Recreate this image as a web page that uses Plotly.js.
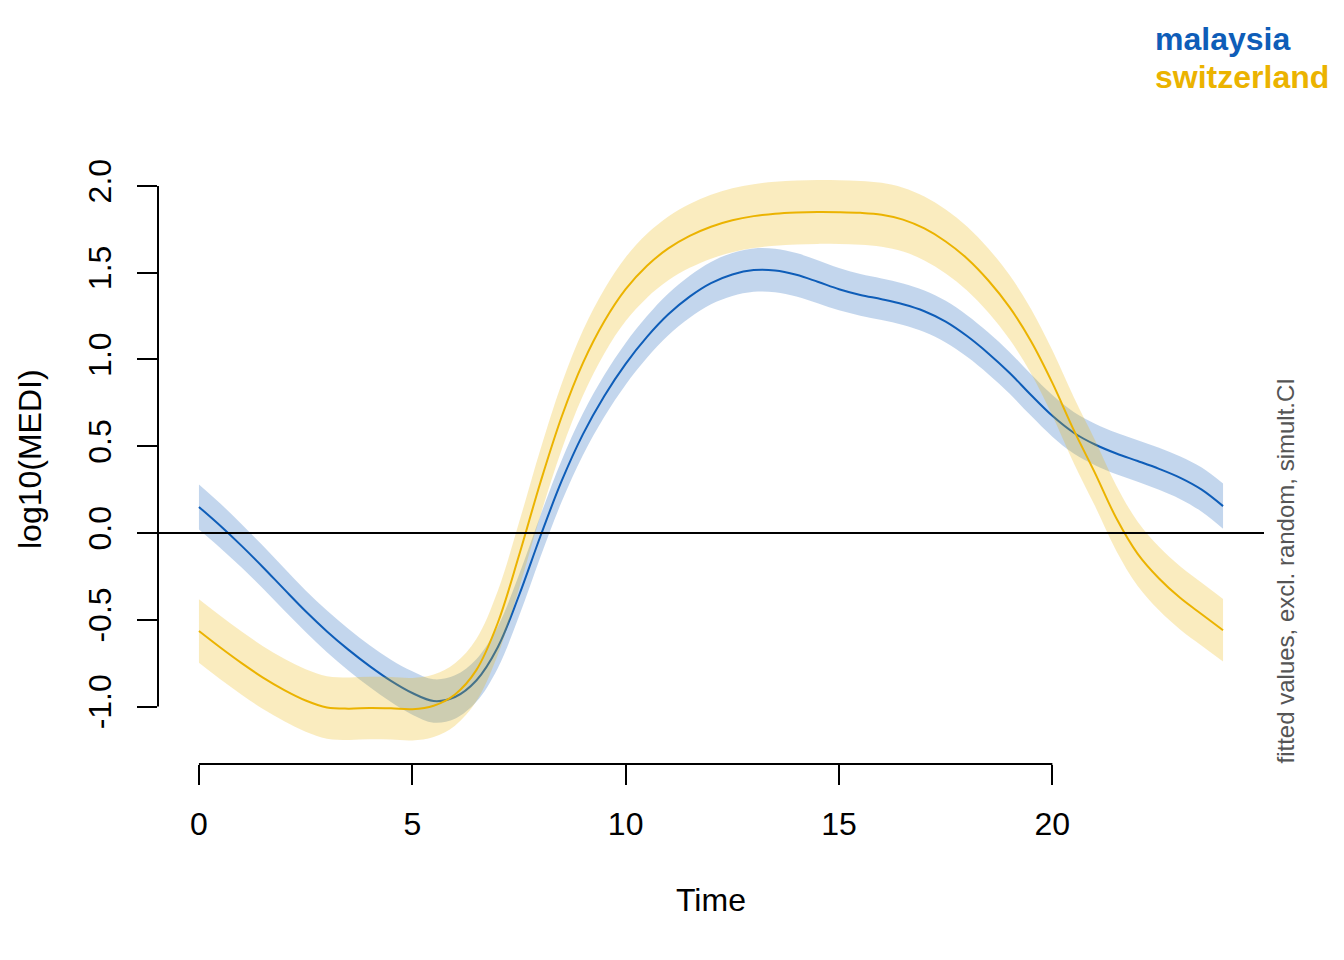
<!DOCTYPE html>
<html>
<head>
<meta charset="utf-8">
<script src="https://cdn.plot.ly/plotly-3.0.1.min.js"></script>
<style>html,body{margin:0;padding:0;background:#fff;}#chart{width:1344px;height:960px;}</style>
</head>
<body>
<div id="chart"></div>
<script>
// ---- data ----
const time = [0,0.5,1,1.5,2,2.5,3,3.5,4,4.5,5,5.5,6,6.5,7,7.5,8,8.5,9,9.5,10,10.5,11,11.5,12,12.5,13,13.5,14,14.5,15,15.5,16,16.5,17,17.5,18,18.5,19,19.5,20,20.5,21,21.5,22,22.5,23,23.5,24];
const fitMalaysia = [0.15,0.042,-0.074,-0.197,-0.325,-0.451,-0.567,-0.672,-0.767,-0.852,-0.922,-0.968,-0.945,-0.85,-0.66,-0.36,-0.02,0.30,0.57,0.79,0.975,1.13,1.26,1.362,1.44,1.49,1.515,1.513,1.488,1.448,1.405,1.372,1.347,1.318,1.278,1.218,1.135,1.035,0.922,0.795,0.675,0.578,0.51,0.458,0.415,0.37,0.318,0.25,0.155];
const ciMalaysia = [0.13,0.128,0.125,0.123,0.122,0.12,0.12,0.12,0.12,0.122,0.125,0.125,0.125,0.123,0.12,0.12,0.12,0.12,0.12,0.12,0.12,0.12,0.12,0.121,0.122,0.124,0.125,0.125,0.125,0.124,0.122,0.12,0.12,0.12,0.12,0.12,0.12,0.12,0.12,0.12,0.12,0.12,0.12,0.12,0.12,0.121,0.123,0.127,0.13];
const fitSwitzerland = [-0.565,-0.66,-0.75,-0.833,-0.905,-0.965,-1.005,-1.012,-1.008,-1.01,-1.015,-0.995,-0.93,-0.79,-0.52,-0.13,0.29,0.67,0.98,1.22,1.405,1.54,1.64,1.712,1.765,1.802,1.826,1.84,1.847,1.85,1.849,1.845,1.834,1.806,1.755,1.68,1.582,1.455,1.30,1.105,0.865,0.594,0.345,0.085,-0.12,-0.262,-0.375,-0.468,-0.56];
const ciSwitzerland = [0.183,0.183,0.182,0.181,0.18,0.18,0.18,0.18,0.18,0.18,0.18,0.18,0.18,0.18,0.185,0.19,0.19,0.19,0.188,0.185,0.184,0.184,0.184,0.184,0.184,0.184,0.184,0.184,0.184,0.184,0.184,0.184,0.184,0.184,0.184,0.184,0.184,0.184,0.185,0.186,0.188,0.19,0.19,0.188,0.185,0.183,0.182,0.181,0.18];
const seriesNames = ["malaysia", "switzerland"];
const xTicks = [0,5,10,15,20];
const yTicks = [-1,-0.5,0,0.5,1,1.5,2];
const yTickText = ["-1.0","-0.5","0.0","0.5","1.0","1.5","2.0"];

// ---- styles ----
const colMy = "#0E5DB8", bandMy = "rgba(14,93,184,0.25)";
const colSw = "#EBB300", bandSw = "rgba(235,179,0,0.25)";
const FONT = "Liberation Sans, Arial, Helvetica, sans-serif";

const lo = (f, c) => f.map((v, i) => v - c[i]);
const hi = (f, c) => f.map((v, i) => v + c[i]);

function band(fit, ci, fillcol) {
  return [
    {x: time, y: lo(fit, ci), type: "scatter", mode: "lines", line: {width: 0, shape: "spline"}, hoverinfo: "skip", showlegend: false},
    {x: time, y: hi(fit, ci), type: "scatter", mode: "lines", line: {width: 0, shape: "spline"}, fill: "tonexty", fillcolor: fillcol, hoverinfo: "skip", showlegend: false}
  ];
}

const data = [
  ...band(fitMalaysia, ciMalaysia, bandMy),
  {x: time, y: fitMalaysia, name: seriesNames[0], type: "scatter", mode: "lines", line: {color: colMy, width: 2, shape: "spline"}, showlegend: false},
  ...band(fitSwitzerland, ciSwitzerland, bandSw),
  {x: time, y: fitSwitzerland, name: seriesNames[1], type: "scatter", mode: "lines", line: {color: colSw, width: 2, shape: "spline"}, showlegend: false}
];

const L = 158, R = 80, T = 154, B = 196;
const PW = 1344 - L - R, PH = 960 - T - B;
const px = v => (v - L) / PW;      // pixel x -> paper
const py = v => (960 - B - v) / PH; // pixel y -> paper

const layout = {
  width: 1344, height: 960,
  margin: {l: L, r: R, t: T, b: B, pad: 0},
  paper_bgcolor: "#fff", plot_bgcolor: "#fff",
  font: {family: FONT, size: 32, color: "#000"},
  showlegend: false,
  xaxis: {
    range: [-0.96, 24.96], showgrid: false, zeroline: false, showline: false,
    tickvals: xTicks, ticks: "outside", ticklen: 20, tickwidth: 2, tickcolor: "#000",
    tickfont: {family: FONT, size: 32, color: "#000"}, ticklabelstandoff: 12
  },
  yaxis: {
    range: [-1.331, 2.184], showgrid: false, zeroline: false, showline: false,
    tickvals: yTicks, ticktext: yTickText, ticks: "outside", ticklen: 20, tickwidth: 2, tickcolor: "#000",
    tickangle: -90, tickfont: {family: FONT, size: 32, color: "#000"}, ticklabelstandoff: 13
  },
  shapes: [
    {type: "line", xref: "x", yref: "paper", x0: xTicks[0], x1: xTicks[xTicks.length - 1], y0: 0, y1: 0, line: {color: "#000", width: 2}},
    {type: "line", xref: "paper", yref: "y", x0: 0, x1: 0, y0: yTicks[0], y1: yTicks[yTicks.length - 1], line: {color: "#000", width: 2}},
    {type: "line", xref: "paper", yref: "y", x0: 0, x1: 1, y0: 0, y1: 0, line: {color: "#000", width: 2}}
  ],
  annotations: [
    {text: "Time", xref: "paper", yref: "paper", x: 0.5, y: py(900), xanchor: "center", yanchor: "middle", showarrow: false, font: {family: FONT, size: 32, color: "#000"}},
    {text: "log10(MEDI)", xref: "paper", yref: "paper", x: px(30), y: 0.5, xanchor: "center", yanchor: "middle", textangle: -90, showarrow: false, font: {family: FONT, size: 32, color: "#000"}},
    {text: "<b>" + seriesNames[0] + "</b>", xref: "paper", yref: "paper", x: px(1153), y: py(39), xanchor: "left", yanchor: "middle", showarrow: false, font: {family: FONT, size: 32, color: colMy}},
    {text: "<b>" + seriesNames[1] + "</b>", xref: "paper", yref: "paper", x: px(1153), y: py(77), xanchor: "left", yanchor: "middle", showarrow: false, font: {family: FONT, size: 32, color: colSw}},
    {text: "fitted values, excl. random, simult.CI", xref: "paper", yref: "paper", x: px(1285), y: py(766), xanchor: "center", yanchor: "bottom", textangle: -90, showarrow: false, font: {family: FONT, size: 24, color: "#555"}}
  ]
};

Plotly.newPlot("chart", data, layout, {staticPlot: true, displayModeBar: false});
</script>
</body>
</html>
